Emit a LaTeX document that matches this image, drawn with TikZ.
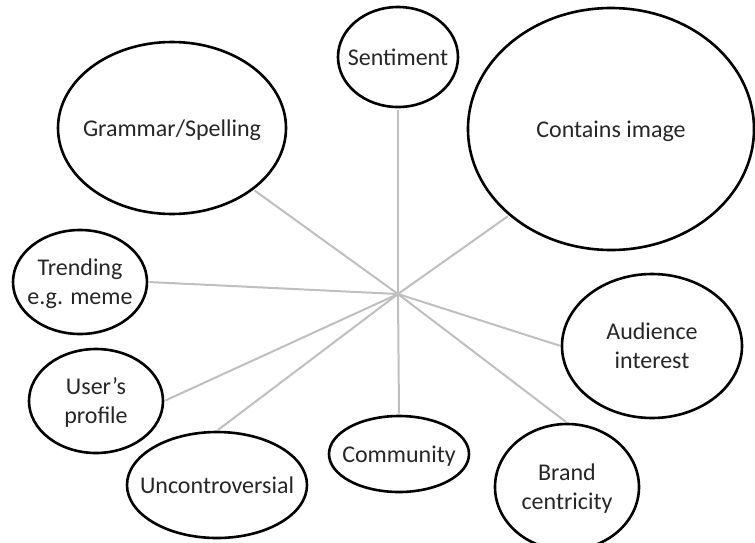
\documentclass[tikz,border=0pt]{standalone}
\usepackage{fontspec}
\setmainfont{Carlito}
\usetikzlibrary{shapes.geometric}
\newcommand{\inbubble}[1]{\makebox[0pt]{\raisebox{-1.2pt}[\height][\depth]{\begin{tabular}{@{}c@{}}#1\end{tabular}}}}

\begin{document}
\begin{tikzpicture}[x=0.5pt,y=-0.5pt,
    bubble/.style={ellipse,draw,line width=1.3pt,inner sep=0pt,text=black!85,font=\fontsize{12}{14.5}\selectfont},
    spoke/.style={draw=black!25,line width=1pt,shorten >=0.6pt}]
\useasboundingbox (0,0) rectangle (755,542);

\coordinate (hub) at (398,294);

\node[bubble,minimum width=60pt,minimum height=50pt]   (sent)  at (398,57)  {\inbubble{Sentiment}};
\node[bubble,minimum width=143pt,minimum height=121pt] (img)   at (611,129) {\inbubble{Contains image}};
\node[bubble,minimum width=114pt,minimum height=86pt]  (gram)  at (172,128) {\inbubble{Grammar/Spelling}};
\node[bubble,minimum width=67pt,minimum height=52pt]   (trend) at (80,282)  {\inbubble{Trending\\e.g. meme}};
\node[bubble,minimum width=90pt,minimum height=72pt]   (aud)   at (652,346) {\inbubble{Audience\\interest}};
\node[bubble,minimum width=67pt,minimum height=52pt]   (user)  at (96,401)  {\inbubble{User’s\\profile}};
\node[bubble,minimum width=90pt,minimum height=53pt]   (unc)   at (217,485) {\inbubble{Uncontroversial}};
\node[bubble,minimum width=70pt,minimum height=38pt]   (comm)  at (399,454) {\inbubble{Community}};
\node[bubble,minimum width=72pt,minimum height=63pt]   (brand) at (567,487) {\inbubble{Brand\\centricity}};

\path
(hub) edge[spoke] (sent.south)
(hub) edge[spoke] (img.south west)
(hub) edge[spoke] (gram.south east)
(hub) edge[spoke] (trend.east)
(hub) edge[spoke] (aud.west)
(hub) edge[spoke] (user.east)
(hub) edge[spoke] (unc.north)
(hub) edge[spoke] (comm.north)
(hub) edge[spoke] (brand.north);
\end{tikzpicture}
\end{document}
